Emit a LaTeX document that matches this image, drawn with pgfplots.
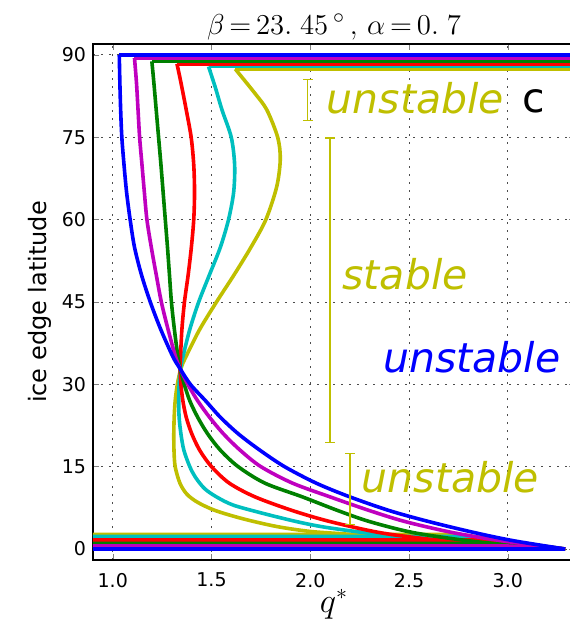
\documentclass[border=0pt]{standalone}
\usepackage[no-math]{fontspec}
\setmainfont{DejaVu Sans}
\usepackage{pgfplots}
\pgfplotsset{compat=1.18}
\definecolor{mb}{rgb}{0,0,1}
\definecolor{mm}{rgb}{0.75,0,0.75}
\definecolor{mg}{rgb}{0,0.5,0}
\definecolor{mr}{rgb}{1,0,0}
\definecolor{mc}{rgb}{0,0.75,0.75}
\definecolor{my}{rgb}{0.75,0.75,0}

\begin{document}
\begin{tikzpicture}
\begin{axis}[
  scale only axis, width=241pt, height=258pt,
  xmin=0.9, xmax=3.34, ymin=-2, ymax=92,
  xtick={1.0,1.5,2.0,2.5,3.0}, ytick={0,15,30,45,60,75,90},
  xticklabel style={/pgf/number format/fixed, /pgf/number format/fixed zerofill,
                    /pgf/number format/precision=1, yshift=-3pt},
  /pgf/number format/assume math mode=true,
  tick label style={font=\fontsize{9.5}{11}\selectfont},
  grid=major, grid style={black!70, line width=0.5pt, dash pattern=on 1pt off 3pt},
  tick align=inside, major tick length=3pt,
  axis line style={line width=0.8pt},
  no markers,
  every axis plot/.append style={line width=1.8pt},
  title={$\beta\,{=}\,23.\;45\,{}^{\circ}\,,\,\alpha\,{=}\,0.\;7$},
  title style={at={(axis description cs:0.5,1)}, anchor=base, yshift=-1pt, inner sep=1pt,
               font=\fontsize{15.5}{18}\selectfont},
  xlabel={$q^*$},
  xlabel style={at={(axis description cs:0.5,-0.1008)}, anchor=base,
                font=\fontsize{16}{18}\selectfont},
  ylabel={ice edge latitude},
  ylabel style={at={(axis description cs:-0.0975,0.5)}, anchor=base,
                font=\fontsize{12}{14}\selectfont},
]
% yellow
\addplot[my] coordinates {(1.62,87.45)(3.4,87.45)};
\addplot[my] coordinates {(0.85,2.67)(2.75,2.67)(3.29,0)};
\addplot[my, smooth] coordinates {(1.62,87.45)(1.72,83)(1.78,80)(1.835,75)(1.848,71)(1.83,66)(1.775,60)(1.70,55)(1.615,50)(1.525,45)(1.44,40)(1.37,35)(1.345,32.9)(1.327,30)(1.316,27)(1.311,24)(1.309,21)(1.31,18)(1.316,15)(1.34,12)(1.375,10)(1.43,8.5)(1.52,7)(1.66,5.5)(1.83,4.1)(2.0,3.2)(2.2,2.67)(2.7,1.2)(3.29,0)};
% cyan
\addplot[mc] coordinates {(1.485,87.9)(3.4,87.9)};
\addplot[mc] coordinates {(0.85,2.3)(2.8,2.3)(3.29,0)};
\addplot[mc, smooth] coordinates {(1.485,87.9)(1.52,84)(1.553,80)(1.60,75)(1.617,70)(1.612,65)(1.586,60)(1.545,55)(1.49,50)(1.435,45)(1.39,40)(1.355,35)(1.343,32.9)(1.336,30)(1.334,27)(1.336,24)(1.345,21)(1.36,18)(1.39,15)(1.42,13)(1.465,11)(1.525,9.5)(1.61,8)(1.76,6.5)(1.93,5)(2.07,4)(2.27,3)(2.45,2.3)(2.8,1.4)(3.29,0)};
% red
\addplot[mr] coordinates {(1.325,88.4)(3.4,88.4)};
\addplot[mr] coordinates {(0.85,1.64)(2.85,1.64)(3.29,0)};
\addplot[mr, smooth] coordinates {(1.325,88.4)(1.345,85)(1.372,80)(1.397,75)(1.41,70)(1.414,65)(1.41,60)(1.398,55)(1.382,50)(1.363,45)(1.35,40)(1.343,35)(1.341,32.9)(1.345,30)(1.355,27)(1.372,24)(1.40,21)(1.44,18)(1.50,15)(1.59,12)(1.72,9.5)(1.91,7)(2.10,5)(2.35,3)(2.6,1.8)(2.9,0.8)(3.29,0)};
% green
\addplot[mg] coordinates {(1.198,88.84)(3.4,88.84)};
\addplot[mg] coordinates {(0.85,1.03)(2.9,1.03)(3.29,0)};
\addplot[mg, smooth] coordinates {(1.198,88.84)(1.208,85)(1.22,80)(1.232,75)(1.244,70)(1.255,65)(1.266,60)(1.277,55)(1.287,50)(1.297,45)(1.312,40)(1.33,35)(1.341,32.9)(1.362,30)(1.39,27)(1.43,24)(1.48,21)(1.545,18)(1.635,15)(1.77,12)(1.96,9.5)(2.14,7)(2.30,5)(2.52,3)(2.80,1.5)(3.05,0.6)(3.29,0)};
% magenta
\addplot[mm] coordinates {(1.11,89.45)(3.4,89.45)};
\addplot[mm] coordinates {(0.85,0.55)(3.0,0.55)(3.29,0)};
\addplot[mm, smooth] coordinates {(1.11,89.45)(1.12,85)(1.128,80)(1.136,75)(1.148,70)(1.16,65)(1.173,60)(1.195,55)(1.22,50)(1.246,45)(1.28,40)(1.318,35)(1.341,32.9)(1.38,30)(1.43,27)(1.49,24)(1.56,21)(1.645,18)(1.75,15)(1.91,12)(2.10,9.5)(2.30,7)(2.48,5)(2.72,3)(2.97,1.5)(3.29,0)};
% blue
\addplot[mb] coordinates {(1.033,90)(3.4,90)};
\addplot[mb] coordinates {(0.85,0)(3.29,0)};
\addplot[mb, smooth] coordinates {(1.033,90)(1.036,85)(1.04,80)(1.046,75)(1.057,70)(1.07,65)(1.088,60)(1.11,55)(1.145,50)(1.19,45)(1.243,40)(1.305,35)(1.34,32.9)(1.393,30)(1.47,27)(1.545,24)(1.635,21)(1.745,18)(1.87,15)(2.03,12)(2.2,9.5)(2.40,7)(2.60,5)(2.83,3)(3.03,1.5)(3.29,0)};
% stability intervals
\addplot[my, line width=0.75pt] coordinates {(1.987,78.1)(1.987,85.5)};
\addplot[my, line width=0.75pt] coordinates {(1.962,78.1)(2.012,78.1)};
\addplot[my, line width=0.75pt] coordinates {(1.962,85.5)(2.012,85.5)};
\addplot[my, line width=0.75pt] coordinates {(2.10,19.4)(2.10,74.9)};
\addplot[my, line width=0.75pt] coordinates {(2.075,19.4)(2.125,19.4)};
\addplot[my, line width=0.75pt] coordinates {(2.075,74.9)(2.125,74.9)};
\addplot[my, line width=0.75pt] coordinates {(2.20,4.5)(2.20,17.4)};
\addplot[my, line width=0.75pt] coordinates {(2.175,4.5)(2.225,4.5)};
\addplot[my, line width=0.75pt] coordinates {(2.175,17.4)(2.225,17.4)};
\node[inner sep=0, text=my, font=\fontsize{20.5}{24}\selectfont\itshape] at (axis cs:2.532,82.1) {unstable};
\node[inner sep=0, font=\fontsize{20.5}{24}\selectfont] at (axis cs:3.133,81.5) {c};
\node[inner sep=0, text=my, font=\fontsize{20.5}{24}\selectfont\itshape] at (axis cs:2.48,50.1) {stable};
\node[inner sep=0, text=mb, font=\fontsize{20.5}{24}\selectfont\itshape] at (axis cs:2.817,35) {unstable};
\node[inner sep=0, text=my, font=\fontsize{20.5}{24}\selectfont\itshape] at (axis cs:2.71,13.0) {unstable};
\end{axis}
\pgfresetboundingbox
\path[use as bounding box] (-46.5pt,-36pt) rectangle (238pt,280pt);
\end{tikzpicture}
\end{document}
